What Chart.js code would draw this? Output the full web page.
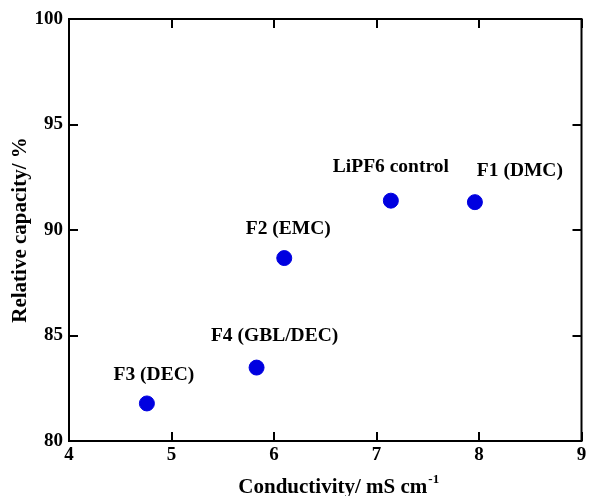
<!DOCTYPE html>
<html>
<head>
<meta charset="utf-8">
<script src="https://cdn.jsdelivr.net/npm/chart.js@4.4.0/dist/chart.umd.min.js"></script>
<style>
    body { margin: 0; background: #fff; }
    #box { width: 590px; height: 496px; }
</style>
</head>
<body>
<div id="box"><canvas id="scatterChart"></canvas></div>
<script>
const ctx = document.getElementById("scatterChart").getContext("2d");

// dati
const nomi = ["LiPF6 control", "F1 (DMC)", "F2 (EMC)", "F3 (DEC)", "F4 (GBL/DEC)"];
const conducibilita = [7.14, 7.96, 6.10, 4.76, 5.83];
const capacita = [91.39, 91.32, 88.67, 81.78, 83.48];
const xTicks = [4, 5, 6, 7, 8, 9];
const yTicks = [80, 85, 90, 95, 100];

// spostamento delle etichette rispetto al punto (px)
const offsetEtichette = [[0, -34], [45, -31], [4, -29], [7, -28], [18, -32]];

const FONT = "'Liberation Serif', 'Times New Roman', serif";
const BLU = "#0000e0";

const punti = conducibilita.map((x, i) => ({ x: x, y: capacita[i] }));

// cornice con tacche verso l'interno + etichette + titolo asse x
const cornice = {
    id: "cornice",
    afterDraw(chart) {
        const c = chart.ctx;
        const a = chart.chartArea;
        const sx = chart.scales.x;
        const sy = chart.scales.y;
        const L = 9;

        c.save();
        c.strokeStyle = "#000";
        c.lineWidth = 2;
        c.strokeRect(a.left, a.top, a.right - a.left, a.bottom - a.top);

        c.beginPath();
        xTicks.forEach(v => {
            const px = Math.round(sx.getPixelForValue(v));
            c.moveTo(px, a.bottom); c.lineTo(px, a.bottom - L);
            c.moveTo(px, a.top); c.lineTo(px, a.top + L);
        });
        yTicks.forEach(v => {
            const py = Math.round(sy.getPixelForValue(v));
            c.moveTo(a.left, py); c.lineTo(a.left + L, py);
            c.moveTo(a.right, py); c.lineTo(a.right - L, py);
        });
        c.stroke();

        // etichette asse x (disegnate qui per non far stringere l'area)
        c.fillStyle = "#000";
        c.font = "bold 19px " + FONT;
        c.textAlign = "center";
        c.textBaseline = "top";
        xTicks.forEach(v => {
            c.fillText(String(v), sx.getPixelForValue(v), a.bottom + 5);
        });

        // etichette dei punti
        c.font = "bold 19.5px " + FONT;
        c.textBaseline = "middle";
        nomi.forEach((n, i) => {
            const px = sx.getPixelForValue(conducibilita[i]);
            const py = sy.getPixelForValue(capacita[i]);
            c.fillText(n, px + offsetEtichette[i][0], py + offsetEtichette[i][1]);
        });

        // titolo asse x con apice
        const base = "Conductivity/ mS cm";
        const apice = "-1";
        c.font = "bold 21px " + FONT;
        const w1 = c.measureText(base).width;
        c.font = "bold 13px " + FONT;
        const w2 = c.measureText(apice).width;
        const cx = (a.left + a.right) / 2 + 13;
        const x0 = cx - (w1 + w2) / 2;
        c.textAlign = "left";
        c.textBaseline = "alphabetic";
        c.font = "bold 21px " + FONT;
        c.fillText(base, x0, 493);
        c.font = "bold 13px " + FONT;
        c.fillText(apice, x0 + w1 + 1, 483);
        c.restore();
    }
};

const chart = new Chart(ctx,
    {
        type: "scatter",
        data:
        {
            datasets:
                [
                    {
                        label: "Relative capacity",
                        data: punti,
                        backgroundColor: BLU,
                        borderColor: BLU,
                        pointRadius: 7.5,
                        pointHoverRadius: 7.5
                    }
                ]
        },
        options:
        {
            responsive: true,
            maintainAspectRatio: false,
            animation: false,
            layout:
            {
                padding: { top: 19, right: 5, left: 0, bottom: 0 }
            },
            plugins:
            {
                legend: { display: false },
                tooltip: { enabled: false }
            },
            scales:
            {
                x:
                {
                    type: "linear",
                    min: 4,
                    max: 9,
                    afterFit: s => { s.height = 55; },
                    afterBuildTicks: s => { s.ticks = xTicks.map(v => ({ value: v })); },
                    grid: { display: false, drawTicks: false },
                    border: { display: false },
                    ticks: { display: false }
                },
                y:
                {
                    type: "linear",
                    min: 80,
                    max: 100,
                    afterFit: s => {
                        s.width = 69;
                        s.paddingTop = 0;
                        s.paddingBottom = 0;
                    },
                    afterBuildTicks: s => { s.ticks = yTicks.map(v => ({ value: v })); },
                    grid: { display: false, drawTicks: false },
                    border: { display: false },
                    ticks:
                    {
                        padding: 6,
                        color: "#000",
                        font: { family: FONT, size: 19, weight: "bold" }
                    },
                    title:
                    {
                        display: true,
                        text: "Relative capacity/ %",
                        color: "#000",
                        padding: { top: 8, bottom: 0 },
                        font: { family: FONT, size: 21, weight: "bold" }
                    }
                }
            }
        },
        plugins: [cornice]
    });
</script>
</body>
</html>
